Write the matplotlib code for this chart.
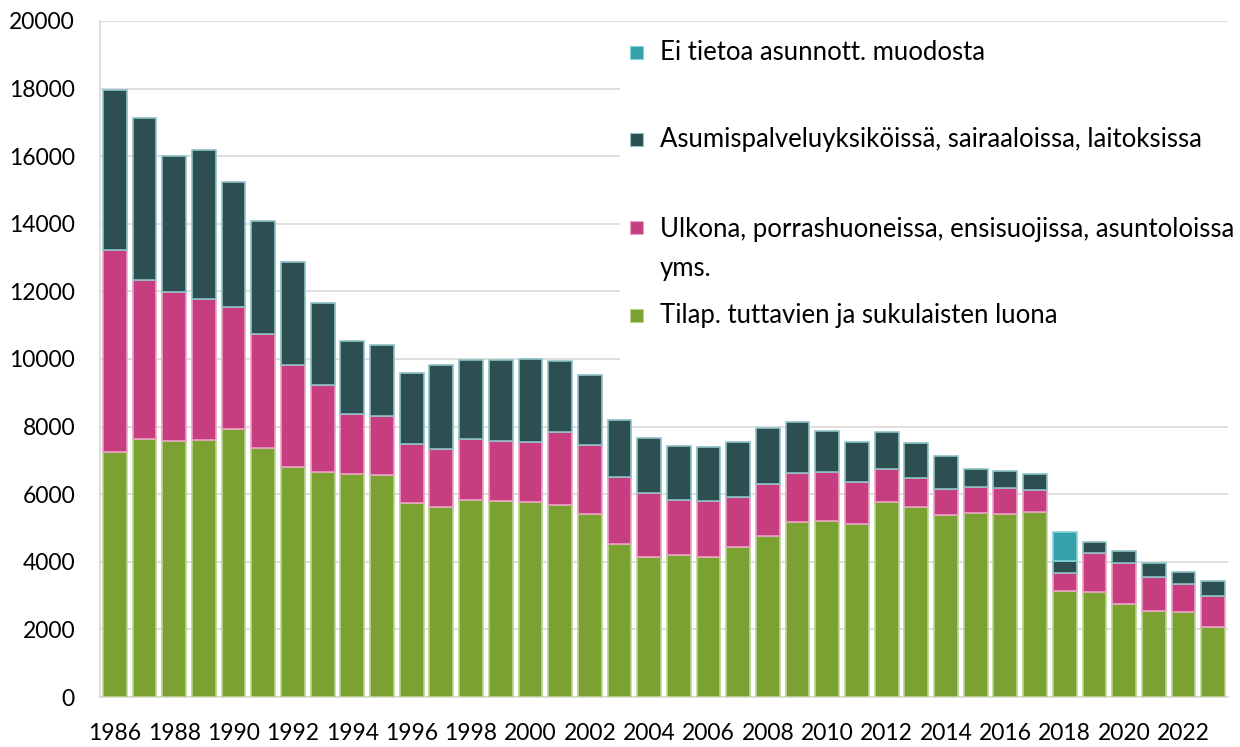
import matplotlib.pyplot as plt
import numpy as np
from matplotlib.patches import Rectangle

# Data ================================================================================================
years = list(range(1986, 2024))

# Tilap. tuttavien ja sukulaisten luona
luona = [7260, 7620, 7570, 7590, 7930, 7360, 6800, 6670, 6590, 6560,
         5750, 5630, 5830, 5800, 5760, 5680, 5400, 4530, 4150, 4200,
         4130, 4430, 4770, 5170, 5220, 5130, 5770, 5610, 5390, 5450,
         5410, 5480, 3140, 3100, 2740, 2550, 2520, 2080]
# Ulkona, porrashuoneissa, ensisuojissa, asuntoloissa yms.
ulkona = [5970, 4720, 4420, 4180, 3620, 3380, 3020, 2570, 1780, 1740,
          1730, 1710, 1800, 1780, 1780, 2170, 2050, 1990, 1900, 1630,
          1680, 1490, 1530, 1460, 1430, 1230, 980, 880, 750, 770,
          760, 650, 520, 1170, 1220, 990, 810, 910]
# Asumispalveluyksiköissä, sairaaloissa, laitoksissa
laitos = [4730, 4780, 4020, 4410, 3700, 3350, 3060, 2430, 2170, 2120,
          2120, 2480, 2340, 2400, 2450, 2090, 2090, 1680, 1600, 1600,
          1580, 1610, 1650, 1510, 1230, 1190, 1100, 1020, 980, 540,
          510, 460, 370, 330, 370, 410, 360, 440]
# Ei tietoa asunnott. muodosta
ei_tietoa = [0] * 38
ei_tietoa[years.index(2018)] = 850

labels = ["Ei tietoa asunnott. muodosta",
          "Asumispalveluyksiköissä, sairaaloissa, laitoksissa",
          "Ulkona, porrashuoneissa, ensisuojissa, asuntoloissa\nyms.",
          "Tilap. tuttavien ja sukulaisten luona"]
#======================================================================================================

plt.rcParams['font.family'] = ['Lato', 'DejaVu Sans']

c_green, e_green = '#7aa131', '#b9d68e'
c_pink, e_pink = '#c73e80', '#eaa3c4'
c_dark, e_dark = '#2e4f51', '#8cc3c6'
c_cyan, e_cyan = '#34a1ab', '#86d3da'

fig = plt.figure(figsize=(12.4, 7.47), dpi=100)
ax = fig.add_axes([100/1240, 1 - 697/747, 1128/1240, 676/747])

x = np.arange(len(years))
w = 0.8
luona = np.array(luona)
ulkona = np.array(ulkona)
laitos = np.array(laitos)
ei_tietoa = np.array(ei_tietoa)

ax.bar(x, luona, w, color=c_green, edgecolor=e_green, linewidth=1.2, zorder=3)
ax.bar(x, ulkona, w, bottom=luona, color=c_pink, edgecolor=e_pink, linewidth=1.2, zorder=3)
ax.bar(x, laitos, w, bottom=luona + ulkona, color=c_dark, edgecolor=e_dark, linewidth=1.2, zorder=3)
mask = ei_tietoa > 0
ax.bar(x[mask], ei_tietoa[mask], w, bottom=(luona + ulkona + laitos)[mask],
       color=c_cyan, edgecolor=e_cyan, linewidth=1.2, zorder=3)

ax.set_xlim(-0.5, len(years) - 0.5)
ax.set_ylim(0, 20000)
ax.set_yticks(range(0, 20001, 2000))
ax.set_xticks(x[::2])
ax.set_xticklabels([str(y) for y in years[::2]])
ax.yaxis.grid(True, color='#d9d9d9', linewidth=1.2, zorder=0)
ax.set_axisbelow(True)
for s in ['top', 'right']:
    ax.spines[s].set_visible(False)
ax.spines['left'].set_color('#d9d9d9')
ax.spines['bottom'].set_color('#d9d9d9')
ax.spines['left'].set_linewidth(1.2)
ax.spines['bottom'].set_linewidth(1.2)
ax.tick_params(axis='y', length=0, pad=18, labelsize=16.5)
ax.tick_params(axis='x', length=0, pad=19, labelsize=16.5)

# Legend (manual, Excel style) ========================================================================
ax.add_patch(Rectangle((0.461, 0.491), 0.56, 0.503, transform=ax.transAxes,
                       facecolor='white', edgecolor='none', zorder=2, clip_on=False))
cols = [(c_cyan, e_cyan), (c_dark, e_dark), (c_pink, e_pink), (c_green, e_green)]
rows = [0.954, 0.824, 0.694, 0.565]
for (fc, ec), lab, yy in zip(cols, labels, rows):
    ax.add_patch(Rectangle((0.470, yy - 0.0096), 0.0115, 0.0192, transform=ax.transAxes,
                           facecolor=fc, edgecolor=ec, linewidth=0.8, zorder=4, clip_on=False))
    if '\n' in lab:
        ax.text(0.4965, yy + 0.016, lab, transform=ax.transAxes, ha='left', va='top',
                fontsize=18.5, linespacing=1.7, zorder=4, clip_on=False)
    else:
        ax.text(0.4965, yy, lab, transform=ax.transAxes, ha='left', va='center',
                fontsize=18.5, zorder=4, clip_on=False)

plt.savefig('out.png', dpi=100)
